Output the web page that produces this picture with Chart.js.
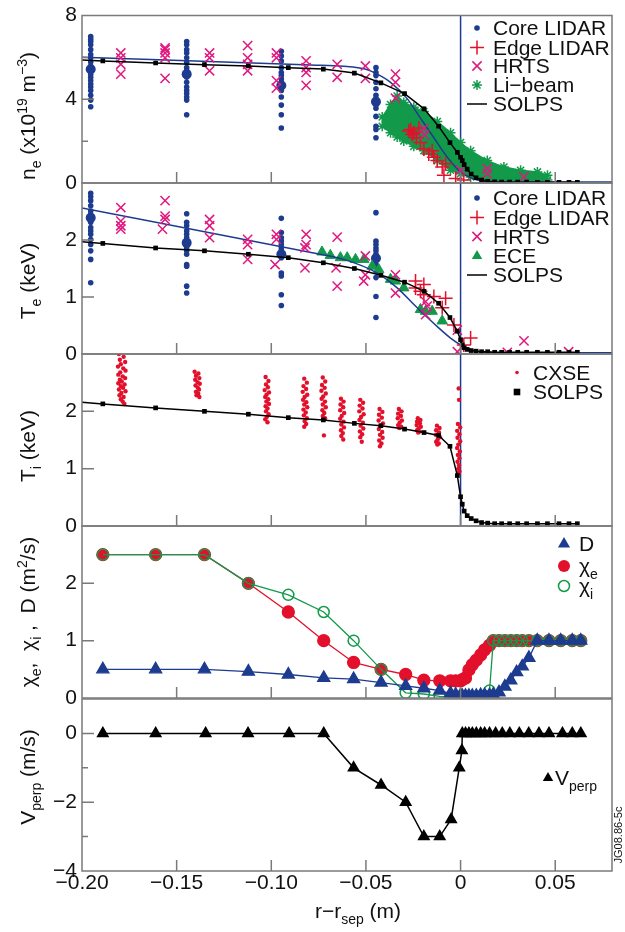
<!DOCTYPE html>
<html lang="en">
<head>
<meta charset="UTF-8" />
<title>Pedestal profiles and transport coefficients</title>
<script src="https://cdn.jsdelivr.net/npm/chart.js"></script>
<style>
  body { margin: 0; background: #fff; }
  #wrap { position: relative; width: 625px; height: 932px; }
  #wrap canvas { position: absolute; left: 0; top: 0; }
</style>
</head>
<body>
<div id="wrap">
  <canvas id="neChart" width="625" height="932"></canvas>
  <canvas id="teChart" width="625" height="932"></canvas>
  <canvas id="tiChart" width="625" height="932"></canvas>
  <canvas id="chiChart" width="625" height="932"></canvas>
  <canvas id="vChart" width="625" height="932"></canvas>
</div>
<script>
// ---- data (r - r_sep in m) ----
const rSolps = [-0.200, -0.189, -0.1611, -0.1353, -0.1121, -0.0910, -0.0725, -0.0561, -0.0421, -0.0296, -0.0193, -0.0116, -0.0056, -0.0017, 0.0, 0.0009, 0.0019, 0.0035, 0.0056, 0.0082, 0.0111, 0.0143, 0.0180, 0.0217, 0.0259, 0.0302, 0.0349, 0.0406, 0.0459, 0.0520, 0.0573, 0.0617];
const neSolps = [5.87, 5.83, 5.73, 5.65, 5.59, 5.51, 5.44, 5.25, 4.78, 4.27, 3.54, 2.71, 1.93, 1.46, 1.23, 1.07, 0.88, 0.66, 0.43, 0.25, 0.14, 0.08, 0.05, 0.04, 0.04, 0.04, 0.04, 0.03, 0.03, 0.03, 0.03, 0.03];
const teSolps = [1.97, 1.94, 1.86, 1.81, 1.75, 1.69, 1.60, 1.50, 1.38, 1.26, 1.10, 0.89, 0.64, 0.40, 0.25, 0.16, 0.11, 0.08, 0.06, 0.05, 0.04, 0.04, 0.03, 0.03, 0.03, 0.03, 0.03, 0.03, 0.03, 0.03, 0.03, 0.03];
const tiSolps = [2.16, 2.13, 2.06, 2.00, 1.95, 1.89, 1.85, 1.79, 1.75, 1.69, 1.63, 1.58, 1.39, 0.88, 0.51, 0.38, 0.26, 0.18, 0.13, 0.09, 0.06, 0.05, 0.04, 0.04, 0.04, 0.04, 0.04, 0.04, 0.04, 0.04, 0.04, 0.04];

const rNeFit = [-0.200, -0.079, -0.0617, -0.050, -0.044, -0.037, -0.0282, -0.0212, -0.0141, -0.0070, 0.0, 0.0088, 0.0159, 0.030, 0.080];
const neFit = [6.01, 5.64, 5.58, 5.43, 5.20, 4.81, 4.03, 3.10, 2.16, 1.23, 0.53, 0.14, 0.07, 0.05, 0.05];
const rTeFit = [-0.200, -0.079, -0.0617, -0.044, -0.0335, -0.0229, -0.0123, -0.0053, 0.0017, 0.0123, 0.025, 0.080];
const teFit = [2.56, 1.78, 1.66, 1.42, 1.16, 0.81, 0.48, 0.28, 0.13, 0.03, 0.02, 0.02];

const rCore = [-0.1954, -0.1447, -0.0947, -0.0447];
const neCore = [
  [7.00, 6.87, 6.76, 6.60, 6.37, 6.14, 5.98, 5.78, 5.59, 5.47, 5.36, 5.20, 5.05, 4.89, 4.73, 4.58, 4.42, 4.19, 3.96, 3.64],
  [6.76, 6.60, 6.37, 6.21, 5.98, 5.75, 5.51, 5.36, 5.20, 5.05, 4.81, 4.58, 4.42, 4.27, 4.11, 3.96, 3.26],
  [6.29, 6.06, 5.83, 5.51, 5.28, 5.13, 4.97, 4.81, 4.66, 4.42, 4.11, 3.72, 3.26, 2.63],
  [5.51, 5.28, 5.13, 4.81, 4.50, 4.19, 4.03, 3.88, 3.72, 3.57, 3.18, 2.71, 2.56, 2.16]
];
const neCoreMean = [5.43, 5.20, 4.66, 3.88];
const teCore = [
  [2.82, 2.76, 2.69, 2.60, 2.51, 2.45, 2.41, 2.36, 2.31, 2.22, 2.16, 2.10, 2.01, 1.92, 1.81, 1.66, 1.25],
  [2.46, 2.31, 2.25, 2.16, 2.10, 2.04, 1.98, 1.95, 1.92, 1.86, 1.81, 1.75, 1.57, 1.54, 1.19, 1.07],
  [2.38, 2.13, 2.04, 1.98, 1.92, 1.86, 1.81, 1.75, 1.72, 1.69, 1.42, 1.37, 1.04, 0.85],
  [2.48, 1.98, 1.92, 1.86, 1.81, 1.75, 1.69, 1.63, 1.57, 1.34, 1.01, 0.64]
];
const teCoreMean = [2.39, 1.95, 1.75, 1.68];

const rEdgeNe = [-0.0274, -0.0256, -0.0264, -0.0247, -0.0233, -0.0220, -0.0212, -0.0194, -0.0168, -0.0150, -0.0141, -0.0123, -0.0097, -0.0079, -0.0088, -0.0026, 0.0017];
const neEdge = [2.48, 2.32, 2.56, 2.40, 2.16, 2.63, 1.93, 1.62, 1.39, 1.54, 1.23, 1.07, 0.76, 0.92, 0.37, 0.22, 0.14];
const rEdgeTe = [-0.0238, -0.0238, -0.0212, -0.0194, -0.0194, -0.0141, -0.0079, -0.0097, -0.0035, 0.0017, 0.0053];
const teEdge = [1.28, 1.16, 1.10, 1.22, 1.04, 1.01, 0.98, 0.81, 0.51, 0.16, 0.28];

const rHrtsNe = [-0.1795, -0.1795, -0.1795, -0.1795, -0.1561, -0.1561, -0.1561, -0.1561, -0.1561, -0.1326, -0.1326, -0.1326, -0.1125, -0.1125, -0.1125, -0.1125, -0.0973, -0.0973, -0.0973, -0.0973, -0.0816, -0.0816, -0.0816, -0.0816, -0.0652, -0.0652, -0.0503, -0.0503, -0.0344, -0.0344, -0.0344, -0.0194, -0.0190, 0.0, 0.0141, 0.0141, 0.0335];
const neHrts = [6.21, 5.98, 5.67, 5.20, 6.45, 6.37, 6.21, 5.98, 5.00, 6.21, 5.98, 5.36, 6.56, 5.98, 5.67, 5.36, 6.21, 5.98, 4.89, 4.53, 5.83, 5.51, 5.28, 4.66, 5.67, 5.05, 5.59, 5.00, 5.20, 4.81, 4.05, 2.60, 2.30, 0.61, 0.69, 0.45, 0.29];
const rHrtsTe = [-0.1795, -0.1795, -0.1795, -0.1795, -0.1561, -0.1561, -0.1561, -0.1575, -0.1326, -0.1326, -0.1326, -0.1125, -0.1125, -0.1125, -0.0973, -0.0973, -0.0980, -0.0816, -0.0816, -0.0822, -0.0822, -0.0652, -0.0658, -0.0652, -0.0503, -0.0503, -0.0512, -0.0344, -0.0344, -0.0185, -0.0176, -0.0185, -0.0017, -0.0017, 0.0247, 0.0335, 0.0571];
const teHrts = [2.57, 2.33, 2.25, 2.19, 2.69, 2.42, 2.36, 2.19, 2.36, 2.25, 2.04, 2.01, 1.92, 1.66, 2.10, 2.01, 1.57, 2.10, 1.92, 1.86, 1.51, 2.05, 1.51, 1.19, 1.72, 1.39, 1.28, 1.39, 1.07, 0.92, 0.84, 0.69, 0.42, 0.04, 0.03, 0.23, 0.04];

const rLi = [-0.0414, -0.0370, -0.0335, -0.0300, -0.0247, -0.0194, -0.0123, -0.0053, 0.0, 0.0053, 0.0141, 0.0229, 0.0317, 0.0406, 0.0459];
const neLiTop = [3.15, 3.75, 4.15, 3.85, 3.62, 3.41, 2.94, 2.40, 1.93, 1.54, 1.07, 0.76, 0.61, 0.53, 0.37];
const neLiBot = [2.71, 2.40, 2.20, 2.01, 1.75, 1.54, 1.07, 0.61, 0.45, 0.29, 0.14, 0.06, 0.06, 0.10, 0.14];

const rEce = [-0.0732, -0.0688, -0.0635, -0.0599, -0.0555, -0.0511, -0.0467, -0.0432, -0.0370, -0.0344, -0.0300, -0.0212, -0.0185, -0.0150, -0.0097];
const teEce = [1.79, 1.73, 1.69, 1.69, 1.66, 1.66, 1.54, 1.48, 1.31, 1.28, 1.16, 0.78, 0.75, 0.75, 0.58];

const cxse = [
  [-0.1805, 3.00], [-0.1780, 2.95], [-0.1800, 2.90], [-0.1772, 2.86], [-0.1795, 2.82], [-0.1810, 2.78], [-0.1782, 2.75], [-0.1770, 2.71], [-0.1798, 2.68], [-0.1808, 2.64], [-0.1785, 2.61], [-0.1772, 2.58], [-0.1800, 2.55], [-0.1790, 2.52], [-0.1808, 2.49], [-0.1775, 2.47], [-0.1795, 2.44], [-0.1783, 2.41], [-0.1805, 2.38], [-0.1770, 2.35], [-0.1792, 2.32], [-0.1802, 2.28], [-0.1780, 2.25], [-0.1795, 2.21], [-0.1785, 2.17], [-0.1776, 2.13],
  [-0.1405, 2.69], [-0.1385, 2.66], [-0.1398, 2.62], [-0.1380, 2.58], [-0.1402, 2.55], [-0.1390, 2.51], [-0.1378, 2.48], [-0.1400, 2.45], [-0.1388, 2.41], [-0.1382, 2.38], [-0.1398, 2.34], [-0.1386, 2.31], [-0.1395, 2.28], [-0.1380, 2.25],
  [-0.1030, 2.60], [-0.1015, 2.53], [-0.1028, 2.47], [-0.1018, 2.42], [-0.1035, 2.37], [-0.1012, 2.33], [-0.1025, 2.29], [-0.1032, 2.25], [-0.1016, 2.21], [-0.1026, 2.17], [-0.1012, 2.13], [-0.1030, 2.09], [-0.1020, 2.05], [-0.1028, 2.00], [-0.1014, 1.95], [-0.1024, 1.90], [-0.1032, 1.86], [-0.1020, 1.81],
  [-0.0826, 2.57], [-0.0812, 2.50], [-0.0830, 2.44], [-0.0816, 2.39], [-0.0834, 2.34], [-0.0810, 2.29], [-0.0824, 2.25], [-0.0832, 2.20], [-0.0815, 2.16], [-0.0826, 2.12], [-0.0810, 2.07], [-0.0830, 2.03], [-0.0818, 1.98], [-0.0828, 1.93], [-0.0812, 1.88], [-0.0824, 1.83], [-0.0816, 1.78], [-0.0826, 1.73],
  [-0.0728, 2.59], [-0.0715, 2.52], [-0.0732, 2.46], [-0.0718, 2.41], [-0.0735, 2.36], [-0.0712, 2.31], [-0.0726, 2.26], [-0.0734, 2.22], [-0.0716, 2.17], [-0.0728, 2.12], [-0.0712, 2.07], [-0.0730, 2.02], [-0.0720, 1.97], [-0.0728, 1.92], [-0.0716, 1.88], [-0.0722, 1.58],
  [-0.0632, 2.22], [-0.0618, 2.17], [-0.0634, 2.12], [-0.0620, 2.07], [-0.0636, 2.02], [-0.0615, 1.97], [-0.0628, 1.92], [-0.0636, 1.87], [-0.0618, 1.82], [-0.0630, 1.77], [-0.0616, 1.72], [-0.0632, 1.67], [-0.0622, 1.62], [-0.0630, 1.57], [-0.0620, 1.51],
  [-0.0530, 2.20], [-0.0515, 2.15], [-0.0533, 2.10], [-0.0518, 2.05], [-0.0535, 2.00], [-0.0512, 1.95], [-0.0526, 1.90], [-0.0534, 1.85], [-0.0516, 1.80], [-0.0528, 1.75], [-0.0514, 1.70], [-0.0532, 1.65], [-0.0520, 1.60], [-0.0530, 1.55], [-0.0522, 1.47],
  [-0.0428, 2.04], [-0.0413, 1.99], [-0.0431, 1.94], [-0.0416, 1.89], [-0.0433, 1.84], [-0.0410, 1.79], [-0.0424, 1.74], [-0.0432, 1.69], [-0.0414, 1.64], [-0.0426, 1.59], [-0.0412, 1.54], [-0.0430, 1.49], [-0.0418, 1.44], [-0.0426, 1.39],
  [-0.0326, 2.04], [-0.0312, 2.00], [-0.0330, 1.96], [-0.0315, 1.92], [-0.0332, 1.88], [-0.0310, 1.84], [-0.0322, 1.80], [-0.0330, 1.76], [-0.0314, 1.73], [-0.0324, 1.71],
  [-0.0226, 1.88], [-0.0212, 1.85], [-0.0230, 1.82], [-0.0215, 1.79], [-0.0232, 1.76], [-0.0210, 1.73], [-0.0222, 1.70], [-0.0230, 1.67], [-0.0216, 1.65], [-0.0224, 1.63],
  [-0.0125, 1.75], [-0.0111, 1.71], [-0.0129, 1.67], [-0.0114, 1.63], [-0.0131, 1.59], [-0.0109, 1.55], [-0.0121, 1.51], [-0.0129, 1.47], [-0.0115, 1.44], [-0.0123, 1.42],
  [-0.0010, 2.40], [-0.0008, 2.20], [-0.0014, 1.78], [-0.0002, 1.72], [-0.0018, 1.66], [-0.0006, 1.60], [-0.0016, 1.54], [-0.0002, 1.48], [-0.0012, 1.42], [-0.0018, 1.36], [-0.0004, 1.30], [-0.0014, 1.24], [-0.0006, 1.18], [-0.0016, 1.12], [-0.0008, 1.06], [-0.0012, 1.00], [-0.0006, 0.95], [-0.0010, 0.92]
];

const rTrans = [-0.189, -0.1611, -0.1353, -0.1121, -0.0910, -0.0723, -0.0565, -0.0420, -0.0290, -0.0194, -0.0110, -0.0053, -0.0026, 0.0, 0.0009, 0.0026, 0.0044, 0.0062, 0.0083, 0.0106, 0.0127, 0.0153, 0.0173, 0.0203, 0.0234, 0.0265, 0.0296, 0.0326, 0.0361, 0.0405, 0.0467, 0.0529, 0.0590, 0.0635];
const chiE = [2.5, 2.5, 2.5, 2.0, 1.5, 1.0, 0.62, 0.5, 0.41, 0.31, 0.30, 0.30, 0.30, 0.30, 0.32, 0.35, 0.49, 0.58, 0.66, 0.75, 0.84, 0.92, 1.0, 1.0, 1.0, 1.0, 1.0, 1.0, 1.0, 1.0, 1.0, 1.0, 1.0, 1.0];
const chiI = [2.5, 2.5, 2.5, 2.0, 1.8, 1.5, 1.0, 0.5, 0.09, 0.07, 0.03, 0.01, 0.01, 0.01, 0.01, 0.01, 0.02, 0.02, 0.02, 0.03, 0.04, 0.13, 1.0, 1.0, 1.0, 1.0, 1.0, 1.0, 1.0, 1.0, 1.0, 1.0, 1.0, 1.0];
const diffD = [0.5, 0.5, 0.5, 0.46, 0.41, 0.35, 0.33, 0.27, 0.21, 0.17, 0.13, 0.08, 0.06, 0.05, 0.04, 0.04, 0.04, 0.04, 0.04, 0.05, 0.05, 0.05, 0.06, 0.10, 0.20, 0.31, 0.45, 0.55, 0.70, 1.0, 1.0, 1.0, 1.0, 1.0];

const rVperp = [-0.189, -0.1611, -0.1347, -0.1123, -0.0906, -0.0723, -0.0565, -0.0420, -0.0290, -0.0194, -0.0110, -0.0050, -0.0007, 0.0007, 0.0009, 0.0026, 0.0044, 0.0062, 0.0083, 0.0106, 0.0127, 0.0153, 0.0185, 0.0220, 0.0260, 0.0310, 0.0360, 0.0414, 0.0467, 0.0538, 0.0590, 0.0635];
const vPerp = [0, 0, 0, 0, 0, 0, -1, -1.5, -2, -3, -3, -2.5, -1, -0.5, 0, 0, 0, 0, 0, 0, 0, 0, 0, 0, 0, 0, 0, 0, 0, 0, 0, 0];

// ---- styling ----
const FONT = "'Liberation Sans', Arial, Helvetica, sans-serif";
const NAVY = '#1d3c8f', RED = '#e3102b', MAGENTA = '#e0187f', GREEN = '#12994a', FRAME = '#7a7a7a', INK = '#111';

const pts = (xs, ys) => xs.map((x, i) => ({ x, y: ys[i] }));
const groups = (xs, gs) => gs.flatMap((g, i) => g.map(y => ({ x: xs[i], y })));
const vline = (lo, hi) => ({ type: 'line', data: [{ x: 0, y: lo }, { x: 0, y: hi }], borderColor: NAVY, borderWidth: 1.5, pointRadius: 0, order: 20 });
const dots = (data, color, r, order) => ({ type: 'scatter', data, pointStyle: 'circle', pointRadius: r, pointBackgroundColor: color, pointBorderColor: color, pointBorderWidth: 0, order });
const strokes = (data, style, color, r, order) => ({ type: 'scatter', data, pointStyle: style, pointRadius: r, pointBorderColor: color, pointBorderWidth: 1.5, order });
const solps = data => ({ type: 'line', data, borderColor: '#000', borderWidth: 1.5, pointStyle: 'rect', pointRadius: c => c.dataIndex === 0 ? 0 : 3.3, pointBackgroundColor: '#000', pointBorderWidth: 0, order: 1 });
const fitLine = data => ({ type: 'line', data, borderColor: NAVY, borderWidth: 1.5, pointRadius: 0, cubicInterpolationMode: 'monotone', order: 4 });

function rich(ctx, parts, x, y, center) {
  const fontOf = k => (k ? 14 : 21) + 'px ' + FONT;
  let w = 0;
  parts.forEach(([t, k]) => { ctx.font = fontOf(k); w += ctx.measureText(t).width; });
  let cx = center ? x - w / 2 : x;
  ctx.textAlign = 'left'; ctx.textBaseline = 'alphabetic'; ctx.fillStyle = INK;
  parts.forEach(([t, k]) => {
    ctx.font = fontOf(k);
    ctx.fillText(t, cx, y + (k === 'sub' ? 6 : k === 'sup' ? -8 : 0));
    cx += ctx.measureText(t).width;
  });
}

function marker(ctx, m, x, y) {
  const r = m.r;
  ctx.save();
  ctx.lineWidth = 1.5;
  ctx.strokeStyle = m.color; ctx.fillStyle = m.color;
  ctx.beginPath();
  if (m.shape === 'circle') ctx.arc(x, y, r, 0, 2 * Math.PI);
  if (m.shape === 'rect') ctx.rect(x - r, y - r, 2 * r, 2 * r);
  if (m.shape === 'triangle') { ctx.moveTo(x, y - r); ctx.lineTo(x + r * 0.866, y + r / 2); ctx.lineTo(x - r * 0.866, y + r / 2); ctx.closePath(); }
  if (m.shape === 'cross' || m.shape === 'star') { ctx.moveTo(x - r, y); ctx.lineTo(x + r, y); ctx.moveTo(x, y - r); ctx.lineTo(x, y + r); }
  if (m.shape === 'crossRot' || m.shape === 'star') { const d = r * 0.707; ctx.moveTo(x - d, y - d); ctx.lineTo(x + d, y + d); ctx.moveTo(x + d, y - d); ctx.lineTo(x - d, y + d); }
  if (m.shape === 'line') { ctx.moveTo(x - r, y); ctx.lineTo(x + r, y); }
  if (m.fill) ctx.fill(); else ctx.stroke();
  ctx.restore();
}

const xInner = [-0.15, -0.10, -0.05, 0, 0.05];

function deco(cfg) {
  return {
    id: 'deco',
    afterDraw(chart) {
      const { ctx, chartArea: a } = chart;
      const x = chart.scales.x, y = chart.scales.y;
      ctx.save();
      ctx.strokeStyle = FRAME; ctx.lineWidth = 1.5;
      ctx.strokeRect(a.left, a.top, a.right - a.left, a.bottom - a.top);
      ctx.beginPath();
      xInner.forEach(v => { const p = x.getPixelForValue(v); ctx.moveTo(p, a.bottom); ctx.lineTo(p, a.bottom - 11); });
      cfg.major.forEach(v => { const p = y.getPixelForValue(v); ctx.moveTo(a.left, p); ctx.lineTo(a.left + 12, p); });
      (cfg.minor || []).forEach(v => { const p = y.getPixelForValue(v); ctx.moveTo(a.left, p); ctx.lineTo(a.left + 6, p); });
      ctx.stroke();
      ctx.save();
      ctx.translate(35, cfg.titleY);
      ctx.rotate(-Math.PI / 2);
      rich(ctx, cfg.title, 0, 0, true);
      ctx.restore();
      cfg.legend.forEach(it => {
        marker(ctx, it.m, it.mx, it.y - 7);
        rich(ctx, it.text, it.tx, it.y, false);
      });
      if (cfg.after) cfg.after(ctx, chart);
      ctx.restore();
    }
  };
}

const fmt = v => (Math.abs(v) < 1e-9 ? '0' : String(v)).replace('-', '\u2212');
const fmtX = v => (Math.abs(v) < 1e-9 ? '0' : v.toFixed(2)).replace('-', '\u2212');

function panel(id, box, datasets, yr, cfg) {
  const tickFont = { family: FONT, size: 21, lineHeight: 1 };
  return new Chart(document.getElementById(id), {
    type: 'scatter',
    data: { datasets },
    options: {
      responsive: false, animation: false, devicePixelRatio: 1,
      layout: { padding: { top: box.top, bottom: 932 - box.bottom - (box.axis ? 30 : 0), left: 0, right: 13 } },
      plugins: { legend: { display: false }, tooltip: { enabled: false } },
      elements: { line: { tension: 0 } },
      scales: {
        x: {
          type: 'linear', min: -0.2, max: 0.08, display: !!box.axis,
          border: { display: false }, grid: { display: false, drawTicks: false },
          ticks: { stepSize: 0.05, includeBounds: false, autoSkip: false, maxRotation: 0, padding: 2, color: INK, font: tickFont, callback: fmtX },
          afterFit: s => { s.height = box.axis ? 30 : 0; }
        },
        y: {
          type: 'linear', min: yr.min, max: yr.max,
          border: { display: false }, grid: { display: false, drawTicks: false },
          ticks: { stepSize: yr.step, includeBounds: false, padding: 5, color: INK, font: tickFont, callback: v => (yr.hideTop && v === yr.max ? '' : fmt(v)) },
          afterFit: s => { s.width = 82; }
        }
      }
    },
    plugins: [deco(cfg)]
  });
}

const M = {
  core: { shape: 'circle', r: 2.8, color: NAVY, fill: true },
  edge: { shape: 'cross', r: 7, color: RED },
  hrts: { shape: 'crossRot', r: 6.5, color: MAGENTA },
  li: { shape: 'star', r: 5, color: GREEN },
  line: { shape: 'line', r: 10, color: '#000' },
  ece: { shape: 'triangle', r: 6, color: GREEN, fill: true },
  cxse: { shape: 'circle', r: 1.8, color: RED, fill: true },
  sq: { shape: 'rect', r: 3.3, color: '#000', fill: true },
  D: { shape: 'triangle', r: 7, color: NAVY, fill: true },
  chiE: { shape: 'circle', r: 6, color: RED, fill: true },
  chiI: { shape: 'circle', r: 5.5, color: GREEN },
  v: { shape: 'triangle', r: 6, color: '#000', fill: true }
};

// n_e
panel('neChart', { top: 12, bottom: 183 }, [
  vline(0, 8),
  { type: 'line', data: pts(rLi, neLiTop), fill: '+1', backgroundColor: GREEN, borderColor: GREEN, borderWidth: 1.5, pointStyle: 'star', pointRadius: 5, pointBorderColor: GREEN, pointBorderWidth: 1.5, order: 10 },
  { type: 'line', data: pts(rLi, neLiBot), borderColor: GREEN, borderWidth: 1.5, pointStyle: 'star', pointRadius: 5, pointBorderColor: GREEN, pointBorderWidth: 1.5, order: 11 },
  dots(groups(rCore, neCore), NAVY, 2.8, 6),
  dots(pts(rCore, neCoreMean), NAVY, 5, 6),
  fitLine(pts(rNeFit, neFit)),
  strokes(pts(rEdgeNe, neEdge), 'cross', RED, 7, 3),
  strokes(pts(rHrtsNe, neHrts), 'crossRot', MAGENTA, 6.5, 2),
  solps(pts(rSolps, neSolps))
], { min: 0, max: 8, step: 4 }, {
  major: [4], minor: [2, 6], titleY: 116,
  title: [['n'], ['e', 'sub'], [' (x10'], ['19', 'sup'], [' m'], ['\u22123', 'sup'], [')']],
  legend: [
    { m: M.core, mx: 477, tx: 493, y: 35, text: [['Core LIDAR']] },
    { m: M.edge, mx: 477, tx: 493, y: 54.5, text: [['Edge LIDAR']] },
    { m: M.hrts, mx: 477, tx: 493, y: 73, text: [['HRTS']] },
    { m: M.li, mx: 477, tx: 493, y: 92, text: [['Li\u2212beam']] },
    { m: M.line, mx: 477, tx: 493, y: 111, text: [['SOLPS']] }
  ]
});

// T_e
panel('teChart', { top: 183, bottom: 354 }, [
  vline(0, 3),
  dots(groups(rCore, teCore), NAVY, 2.8, 6),
  dots(pts(rCore, teCoreMean), NAVY, 5, 6),
  fitLine(pts(rTeFit, teFit)),
  { type: 'scatter', data: pts(rEce, teEce), pointStyle: 'triangle', pointRadius: 6, pointBackgroundColor: GREEN, pointBorderColor: GREEN, order: 5 },
  strokes(pts(rEdgeTe, teEdge), 'cross', RED, 7, 3),
  strokes(pts(rHrtsTe, teHrts), 'crossRot', MAGENTA, 6.5, 2),
  solps(pts(rSolps, teSolps))
], { min: 0, max: 3, step: 1, hideTop: true }, {
  major: [1, 2], titleY: 281,
  title: [['T'], ['e', 'sub'], [' (keV)']],
  legend: [
    { m: M.core, mx: 477, tx: 493, y: 205, text: [['Core LIDAR']] },
    { m: M.edge, mx: 477, tx: 493, y: 224.5, text: [['Edge LIDAR']] },
    { m: M.hrts, mx: 477, tx: 493, y: 243.5, text: [['HRTS']] },
    { m: M.ece, mx: 477, tx: 493, y: 263, text: [['ECE']] },
    { m: M.line, mx: 477, tx: 493, y: 282, text: [['SOLPS']] }
  ]
});

// T_i
panel('tiChart', { top: 354, bottom: 526 }, [
  vline(0, 3),
  dots(cxse.map(([x, y]) => ({ x, y })), RED, 2.2, 3),
  solps(pts(rSolps, tiSolps))
], { min: 0, max: 3, step: 1, hideTop: true }, {
  major: [1, 2], titleY: 446,
  title: [['T'], ['i', 'sub'], [' (keV)']],
  legend: [
    { m: M.cxse, mx: 517, tx: 533, y: 379.5, text: [['CXSE']] },
    { m: M.sq, mx: 517, tx: 533, y: 399, text: [['SOLPS']] }
  ]
});

// transport coefficients
panel('chiChart', { top: 526, bottom: 698 }, [
  { type: 'line', data: pts(rTrans, chiE), borderColor: RED, borderWidth: 1.3, pointStyle: 'circle', pointRadius: 6, pointBackgroundColor: RED, pointBorderColor: RED, order: 3 },
  { type: 'line', data: pts(rTrans, chiI), borderColor: GREEN, borderWidth: 1.3, pointStyle: 'circle', pointRadius: 5.5, pointBackgroundColor: 'rgba(0,0,0,0)', pointBorderColor: GREEN, pointBorderWidth: 1.5, order: 2 },
  { type: 'line', data: pts(rTrans, diffD), borderColor: NAVY, borderWidth: 1.3, pointStyle: 'triangle', pointRadius: 7, pointBackgroundColor: NAVY, pointBorderColor: NAVY, order: 1 }
], { min: 0, max: 3, step: 1, hideTop: true }, {
  major: [1, 2], titleY: 612,
  title: [['\u03c7'], ['e', 'sub'], [',  \u03c7'], ['i', 'sub'], [' ,  D (m'], ['2', 'sup'], ['/s)']],
  legend: [
    { m: M.D, mx: 564, tx: 579, y: 551, text: [['D']] },
    { m: M.chiE, mx: 564, tx: 579, y: 573, text: [['\u03c7'], ['e', 'sub']] },
    { m: M.chiI, mx: 564, tx: 579, y: 593, text: [['\u03c7'], ['i', 'sub']] }
  ]
});

// V_perp
panel('vChart', { top: 699, bottom: 871, axis: true }, [
  { type: 'line', data: pts(rVperp, vPerp), borderColor: '#000', borderWidth: 1.5, pointStyle: 'triangle', pointRadius: 6, pointBackgroundColor: '#000', pointBorderColor: '#000', order: 1 }
], { min: -4, max: 1, step: 2, hideTop: true }, {
  major: [-2, 0], minor: [-3, -1], titleY: 777,
  title: [['V'], ['perp', 'sub'], [' (m/s)']],
  legend: [
    { m: M.v, mx: 548, tx: 555, y: 785, text: [['V'], ['perp', 'sub']] }
  ],
  after(ctx) {
    rich(ctx, [['r\u2212r'], ['sep', 'sub'], [' (m)']], 358, 918, true);
    ctx.save();
    ctx.translate(622, 835);
    ctx.rotate(-Math.PI / 2);
    ctx.font = '11px ' + FONT; ctx.fillStyle = INK; ctx.textAlign = 'center'; ctx.textBaseline = 'alphabetic';
    ctx.fillText('JG08.86-5c', 0, 0);
    ctx.restore();
  }
});
</script>
</body>
</html>
